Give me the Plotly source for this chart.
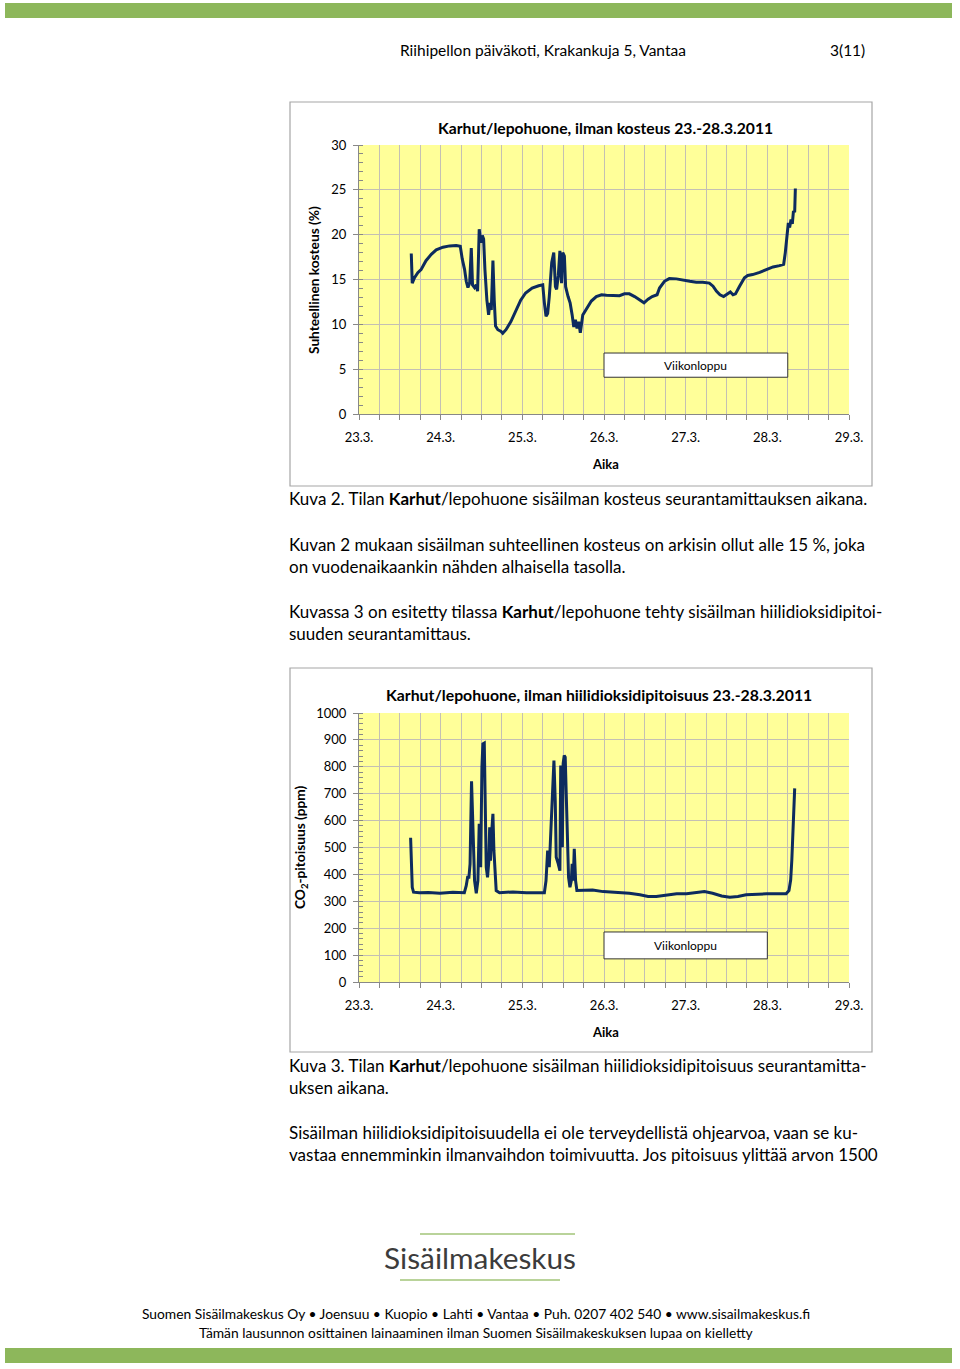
import plotly.graph_objects as go

W, H = 960, 1369

# ---------------- data ----------------
day_labels = ["23.3.", "24.3.", "25.3.", "26.3.", "27.3.", "28.3.", "29.3."]

rh_day = [0.640, 0.652, 0.680, 0.720, 0.760, 0.820, 0.885, 0.946, 1.028, 1.110,
          1.190, 1.240, 1.264, 1.293, 1.313, 1.334, 1.355, 1.375, 1.390, 1.415,
          1.436, 1.452, 1.472, 1.493, 1.510, 1.526, 1.542, 1.566, 1.587, 1.603,
          1.620, 1.640, 1.656, 1.672, 1.700, 1.740, 1.760, 1.800, 1.860, 1.920,
          1.980, 2.040, 2.120, 2.200, 2.250, 2.270, 2.290, 2.310, 2.330, 2.360,
          2.385, 2.405, 2.420, 2.440, 2.460, 2.480, 2.495, 2.515, 2.530, 2.560,
          2.585, 2.610, 2.630, 2.650, 2.670, 2.690, 2.710, 2.740, 2.800, 2.845,
          2.906, 2.970, 3.030, 3.110, 3.190, 3.250, 3.310, 3.375, 3.437, 3.490,
          3.540, 3.590, 3.650, 3.680, 3.740, 3.800, 3.886, 3.967, 4.050, 4.130,
          4.210, 4.290, 4.335, 4.376, 4.420, 4.465, 4.506, 4.547, 4.580, 4.610,
          4.660, 4.720, 4.760, 4.820, 4.906, 4.990, 5.070, 5.150, 5.200, 5.220,
          5.240, 5.257, 5.273, 5.290, 5.306, 5.320, 5.335, 5.343]
rh_val = [17.9, 14.6, 15.2, 15.75, 16.1, 17.1, 17.8, 18.3, 18.6, 18.75,
          18.8, 18.7, 17.3, 16.1, 14.8, 14.1, 14.6, 18.5, 14.4, 14.1,
          14.4, 13.7, 20.6, 19.1, 19.9, 19.5, 16.1, 12.7, 11.05, 12.4,
          11.6, 17.1, 12.7, 9.8, 9.4, 9.2, 9.0, 9.4, 10.3, 11.6,
          12.7, 13.5, 14.05, 14.3, 14.4, 12.4, 10.9, 11.2, 13.1, 16.9,
          18.0, 14.2, 13.9, 15.4, 18.2, 14.6, 18.0, 17.6, 14.2, 13.1,
          12.4, 11.05, 9.7, 10.5, 9.55, 10.3, 9.05, 11.05, 12.0, 12.6,
          13.1, 13.3, 13.25, 13.25, 13.2, 13.4, 13.4, 13.1, 12.7, 12.4,
          12.8, 13.1, 13.3, 14.05, 14.8, 15.1, 15.07, 14.9, 14.8, 14.7,
          14.7, 14.6, 14.25, 13.7, 13.3, 13.1, 13.4, 13.6, 13.3, 13.4,
          14.25, 15.2, 15.45, 15.55, 15.8, 16.1, 16.4, 16.55, 16.7, 18.0,
          20.2, 21.3, 20.8, 21.7, 21.2, 22.65, 22.5, 25.15]

co2_day = [0.632, 0.644, 0.652, 0.668, 0.740, 0.850, 0.990, 1.150, 1.290, 1.313,
           1.330, 1.346, 1.360, 1.378, 1.400, 1.415, 1.436, 1.456, 1.472, 1.490,
           1.505, 1.517, 1.534, 1.546, 1.558, 1.574, 1.590, 1.600, 1.610, 1.623,
           1.640, 1.652, 1.664, 1.680, 1.720, 1.885, 2.050, 2.210, 2.270, 2.290,
           2.310, 2.330, 2.345, 2.366, 2.387, 2.403, 2.415, 2.440, 2.460, 2.470,
           2.490, 2.500, 2.513, 2.525, 2.538, 2.550, 2.566, 2.583, 2.600, 2.610,
           2.623, 2.636, 2.652, 2.668, 2.700, 2.860, 2.990, 3.150, 3.310, 3.440,
           3.540, 3.640, 3.760, 3.890, 4.010, 4.130, 4.230, 4.330, 4.440, 4.540,
           4.640, 4.740, 4.865, 4.990, 5.110, 5.230, 5.265, 5.286, 5.300, 5.315,
           5.320, 5.335]
co2_val = [536, 402, 352, 334, 332, 333, 330, 334, 332, 358,
           389, 389, 439, 746, 550, 377, 330, 377, 588, 427,
           798, 885, 888, 674, 427, 389, 451, 575, 451, 550,
           625, 489, 402, 340, 332, 335, 332, 332, 332, 377,
           489, 427, 550, 674, 823, 674, 464, 439, 414, 805,
           501, 813, 842, 836, 674, 513, 389, 352, 377, 439,
           377, 495, 377, 340, 340, 342, 336, 333, 330, 324,
           318, 318, 323, 328, 328, 333, 336, 330, 320, 315,
           318, 324, 327, 328, 328, 328, 340, 380, 454, 553,
           603, 720]

# ---------------- helpers ----------------
def px(x):
    return x / W

def py(y):
    return 1 - y / H

FONT = "Lato"
LINE_COLOR = "#0D2B5E"
GRID = "#C4C0B4"
PLOT_BG = "#FFFF99"

fig = go.Figure()
fig.add_trace(go.Scatter(x=rh_day, y=rh_val, mode="lines",
                         line=dict(color=LINE_COLOR, width=3), xaxis="x", yaxis="y",
                         hoverinfo="skip", showlegend=False))
fig.add_trace(go.Scatter(x=co2_day, y=co2_val, mode="lines",
                         line=dict(color=LINE_COLOR, width=3), xaxis="x2", yaxis="y2",
                         hoverinfo="skip", showlegend=False))

xdom = [px(359), px(849)]
dom1 = [py(414), py(145)]
dom2 = [py(982), py(713)]

def xax(anchor):
    return dict(domain=xdom, anchor=anchor, range=[0, 6], automargin=False,
                tickvals=list(range(len(day_labels))), ticktext=day_labels,
                showgrid=True, gridcolor=GRID, gridwidth=1,
                minor=dict(dtick=0.25, showgrid=True, gridcolor=GRID, gridwidth=1,
                           ticks="outside", ticklen=5, tickcolor="#888888"),
                ticks="outside", ticklen=5, tickcolor="#888888",
                showline=True, linecolor="#888888", linewidth=1,
                zeroline=False, ticklabelstandoff=6,
                tickfont=dict(family=FONT, size=13, color="#000000"), fixedrange=True)

def yax(anchor, dom, rng, dt, mdt):
    return dict(domain=dom, anchor=anchor, range=rng, dtick=dt, tick0=0, automargin=False,
                showgrid=True, gridcolor=GRID, gridwidth=1,
                minor=dict(dtick=mdt, ticks="inside", ticklen=4, tickcolor="#888888",
                           showgrid=False),
                ticks="outside", ticklen=5, tickcolor="#888888",
                showline=True, linecolor="#888888", linewidth=1,
                zeroline=False, ticklabelstandoff=4,
                tickfont=dict(family=FONT, size=13, color="#000000"), fixedrange=True)

fig.update_layout(
    template="none",
    width=W, height=H, margin=dict(l=0, r=0, t=0, b=0, pad=0, autoexpand=False),
    paper_bgcolor="#FFFFFF", plot_bgcolor=PLOT_BG,
    xaxis=xax("y"), yaxis=yax("x", dom1, [0, 30], 5, 1),
    xaxis2=xax("y2"), yaxis2=yax("x2", dom2, [0, 1000], 100, 20),
    showlegend=False,
)

shapes = []
annotations = []

# green bars
for y0, y1 in [(3, 18), (1348, 1363)]:
    shapes.append(dict(type="rect", xref="paper", yref="paper", x0=px(5), x1=px(952),
                       y0=py(y1), y1=py(y0), fillcolor="#8DB75B", line=dict(width=0),
                       layer="below"))

# chart frames
for y0, y1 in [(102, 486), (668, 1052)]:
    shapes.append(dict(type="rect", xref="paper", yref="paper", x0=px(290), x1=px(872),
                       y0=py(y1), y1=py(y0), fillcolor="rgba(0,0,0,0)",
                       line=dict(color="#A6A6A6", width=1.2), layer="below"))

# logo lines
shapes.append(dict(type="line", xref="paper", yref="paper", x0=px(420), x1=px(575),
                   y0=py(1234), y1=py(1234), line=dict(color="#B9D39A", width=2)))
shapes.append(dict(type="line", xref="paper", yref="paper", x0=px(400), x1=px(560),
                   y0=py(1280), y1=py(1280), line=dict(color="#B9D39A", width=2)))

# Viikonloppu boxes (data coordinates)
shapes.append(dict(type="rect", xref="x", yref="y", x0=3.0, x1=5.25, y0=4.1, y1=6.8,
                   fillcolor="#FFFFFF", line=dict(color="#333333", width=1)))
shapes.append(dict(type="rect", xref="x2", yref="y2", x0=3.0, x1=5.0, y0=86, y1=186,
                   fillcolor="#FFFFFF", line=dict(color="#333333", width=1)))
annotations.append(dict(xref="x", yref="y", x=4.125, y=5.45, text="Viikonloppu",
                        showarrow=False, font=dict(family=FONT, size=12, color="#000")))
annotations.append(dict(xref="x2", yref="y2", x=4.0, y=136, text="Viikonloppu",
                        showarrow=False, font=dict(family=FONT, size=12, color="#000")))

def txt(x, y, text, size, anchor="left", bold=False, color="#000000", angle=0):
    annotations.append(dict(xref="paper", yref="paper", x=px(x), y=py(y),
                            text=("<b>%s</b>" % text) if bold else text,
                            xanchor=anchor, yanchor="middle", showarrow=False,
                            textangle=angle,
                            font=dict(family=FONT, size=size, color=color)))

# header
txt(543, 50, "Riihipellon päiväkoti, Krakankuja 5, Vantaa", 15.5, "center")
txt(847, 50, "3(11)", 15.5, "center")

# chart titles and axis titles
txt(605, 128, "Karhut/lepohuone, ilman kosteus 23.-28.3.2011", 15.7, "center", bold=True)
txt(605, 464, "Aika", 13, "center", bold=True)
txt(314, 280, "Suhteellinen kosteus (%)", 13.7, "center", bold=True, angle=-90)

txt(599, 695, "Karhut/lepohuone, ilman hiilidioksidipitoisuus 23.-28.3.2011", 15.8, "center", bold=True)
txt(605, 1032, "Aika", 13, "center", bold=True)
txt(300, 848, "CO<sub>2</sub>-pitoisuus (ppm)", 13.7, "center", bold=True, angle=-90)

# body text
BS = 17
txt(287, 499, "Kuva 2. Tilan <b>Karhut</b>/lepohuone sisäilman kosteus seurantamittauksen aikana.", BS)
txt(287, 544, "Kuvan 2 mukaan sisäilman suhteellinen kosteus on arkisin ollut alle 15 %, joka", BS)
txt(287, 566, "on vuodenaikaankin nähden alhaisella tasolla.", BS)
txt(287, 611, "Kuvassa 3 on esitetty tilassa <b>Karhut</b>/lepohuone tehty sisäilman hiilidioksidipitoi-", BS)
txt(287, 633, "suuden seurantamittaus.", BS)
txt(287, 1065, "Kuva 3. Tilan <b>Karhut</b>/lepohuone sisäilman hiilidioksidipitoisuus seurantamitta-", BS)
txt(287, 1087, "uksen aikana.", BS)
txt(287, 1132, "Sisäilman hiilidioksidipitoisuudella ei ole terveydellistä ohjearvoa, vaan se ku-", BS)
txt(287, 1154, "vastaa ennemminkin ilmanvaihdon toimivuutta. Jos pitoisuus ylittää arvon 1500", BS)

# footer
txt(480, 1257, "Sisäilmakeskus", 29.8, "center", color="#3C3C3C")
txt(476, 1313, "Suomen Sisäilmakeskus Oy • Joensuu • Kuopio • Lahti • Vantaa • Puh. 0207 402 540 • www.sisailmakeskus.fi", 13.8, "center")
txt(476, 1332, "Tämän lausunnon osittainen lainaaminen ilman Suomen Sisäilmakeskuksen lupaa on kielletty", 13.8, "center")

fig.update_layout(shapes=shapes, annotations=annotations)
fig.write_html("out.html",
               config={"displayModeBar": False, "staticPlot": True},
               post_script="document.body.style.margin='0';document.body.style.padding='0';"
                           "document.body.style.overflow='hidden';")
